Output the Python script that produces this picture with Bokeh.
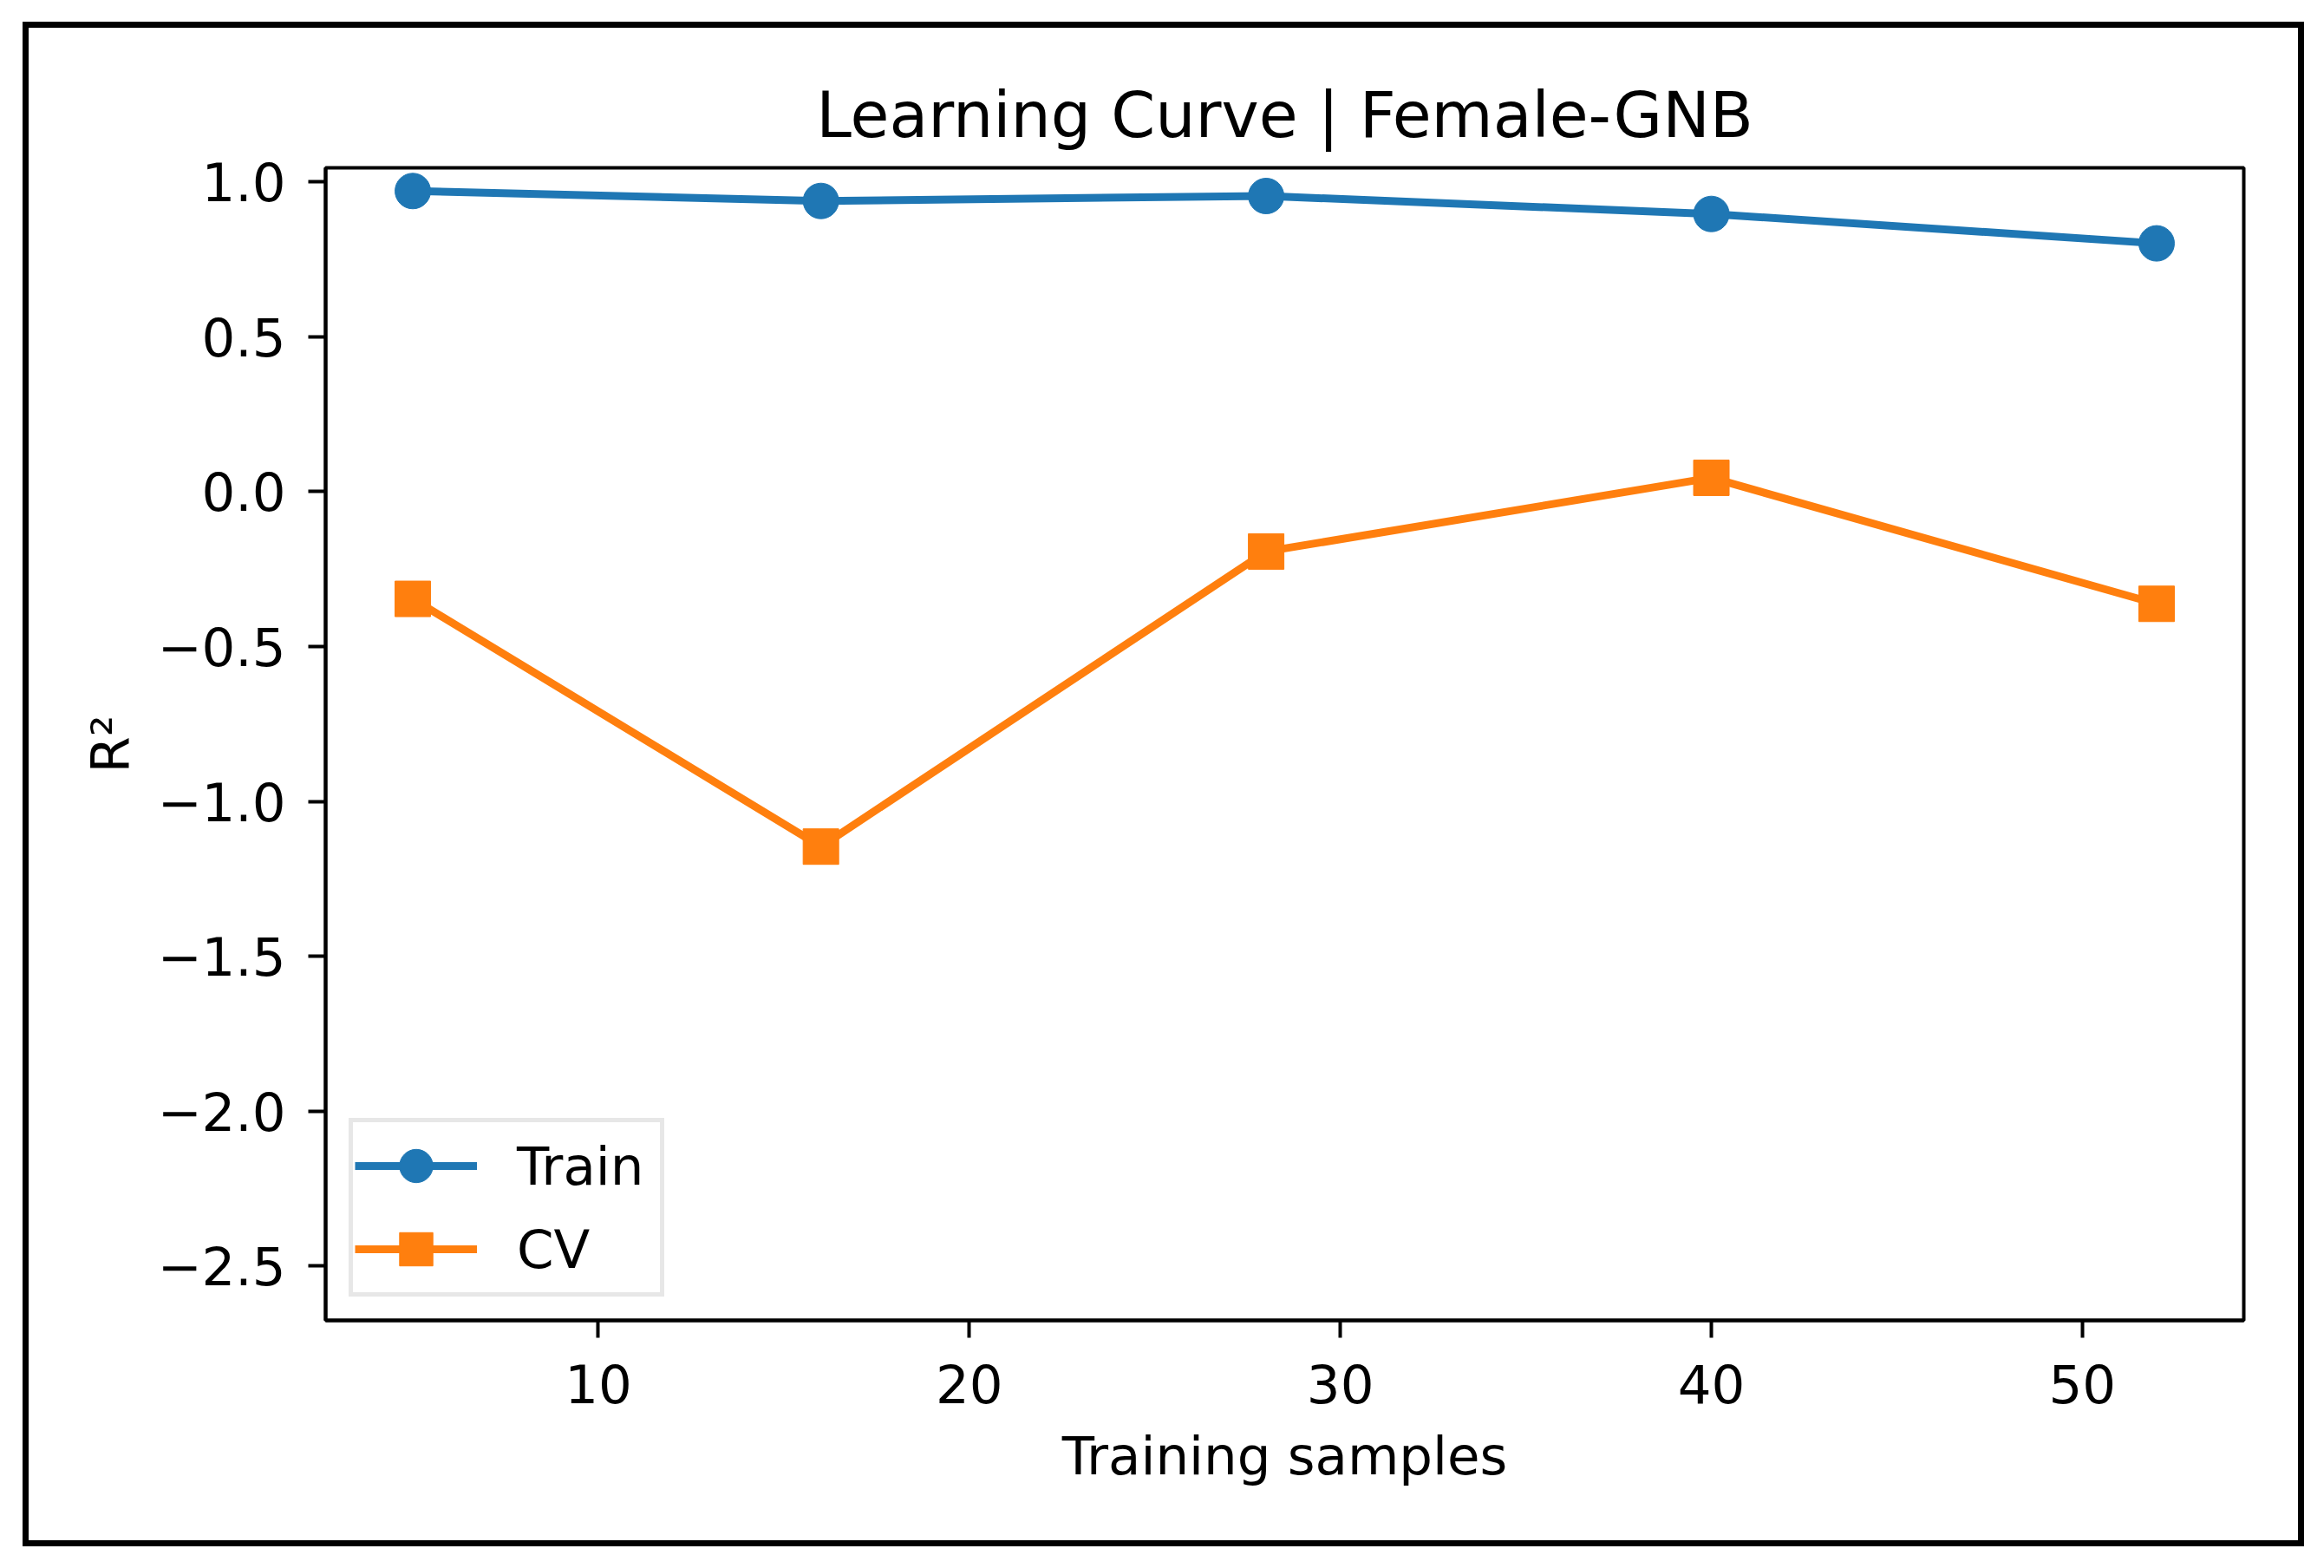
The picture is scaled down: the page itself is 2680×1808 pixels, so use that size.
from bokeh.plotting import figure
from bokeh.models import Range1d, FixedTicker, CustomJSTickFormatter
from bokeh.embed import file_html
from bokeh.resources import INLINE

# ---- data ----
train_sizes = [5, 16, 28, 40, 52]
train_r2 = [0.971, 0.939, 0.955, 0.897, 0.802]
cv_r2 = [-0.346, -1.146, -0.193, 0.045, -0.362]
x_ticks = [10, 20, 30, 40, 50]
y_ticks = [-2.5, -2.0, -1.5, -1.0, -0.5, 0.0, 0.5, 1.0]
title_text = "Learning Curve | Female-GNB"
x_label = "Training samples"
y_label = "R²"
series_names = ["Train", "CV"]

BLUE = "#1f77b4"
ORANGE = "#ff7f0e"
FONT = "DejaVu Sans"

W, H = 2664, 1792
FL, FT, FR, FB = 375, 193, 2587, 1522   # frame edges (px)

p = figure(width=W, height=H, output_backend="svg", toolbar_location=None,
           x_range=Range1d(2.65, 54.35), y_range=Range1d(-2.676, 1.046),
           min_border_left=FL, min_border_right=W - FR, min_border_top=FT,
           min_border_bottom=H - FB)
p.background_fill_color = "white"
p.border_fill_color = None
p.grid.visible = False
p.outline_line_color = "black"
p.outline_line_width = 4

# outer black border of the picture, drawn as the element's background
BL, BT, BR, BB, BW = 26, 25, 2657, 1783, 7
p.styles = {
    "background-color": "white",
    "background-image": ", ".join(["linear-gradient(#000, #000)"] * 4),
    "background-repeat": "no-repeat",
    "background-size": (f"{BR - BL}px {BW}px, {BR - BL}px {BW}px, "
                        f"{BW}px {BB - BT}px, {BW}px {BB - BT}px"),
    "background-position": (f"{BL}px {BT}px, {BL}px {BB - BW}px, "
                            f"{BL}px {BT}px, {BR - BW}px {BT}px"),
}

p.title.text = title_text
p.title.text_font = FONT
p.title.text_font_size = "73px"
p.title.text_font_style = "normal"
p.title.align = "center"
p.title.text_color = "black"
p.title.standoff = 38

for ax in (p.xaxis[0], p.yaxis[0]):
    ax.axis_line_width = 4
    ax.axis_line_color = "black"
    ax.major_tick_line_width = 4
    ax.major_tick_line_color = "black"
    ax.major_tick_out = 20
    ax.major_tick_in = 0
    ax.minor_tick_line_color = None
    ax.major_label_text_font = FONT
    ax.major_label_text_font_size = "61px"
    ax.major_label_text_color = "black"
    ax.axis_label_text_font = FONT
    ax.axis_label_text_font_size = "61px"
    ax.axis_label_text_font_style = "normal"
    ax.axis_label_text_color = "black"

p.xaxis.ticker = FixedTicker(ticks=x_ticks)
p.yaxis.ticker = FixedTicker(ticks=y_ticks)
p.yaxis.formatter = CustomJSTickFormatter(
    code="return (tick < 0 ? '\u2212' : '') + Math.abs(tick).toFixed(1);")
p.xaxis.major_label_standoff = 30
p.yaxis.major_label_standoff = 26
p.xaxis.axis_label = x_label
p.yaxis.axis_label = y_label
p.xaxis.axis_label_standoff = 22
p.yaxis.axis_label_standoff = 15

p.line(train_sizes, train_r2, line_width=9, color=BLUE, legend_label=series_names[0])
p.scatter(train_sizes, train_r2, marker="circle", size=41, color=BLUE,
          legend_label=series_names[0])
p.line(train_sizes, cv_r2, line_width=9, color=ORANGE, legend_label=series_names[1])
p.scatter(train_sizes, cv_r2, marker="square", size=41, color=ORANGE,
          legend_label=series_names[1])

lg = p.legend[0]
lg.location = (27, 27)
lg.margin = 0
lg.padding = 2
lg.spacing = -5
lg.glyph_height = 96
lg.glyph_width = 141
lg.label_standoff = 46
lg.label_width = 163
lg.label_height = 60
lg.label_text_font = FONT
lg.label_text_font_size = "61px"
lg.label_text_color = "black"
lg.background_fill_color = "white"
lg.background_fill_alpha = 0.8
lg.border_line_color = "#d0d0d0"
lg.border_line_width = 5

open("out.html", "w").write(file_html(p, INLINE))
